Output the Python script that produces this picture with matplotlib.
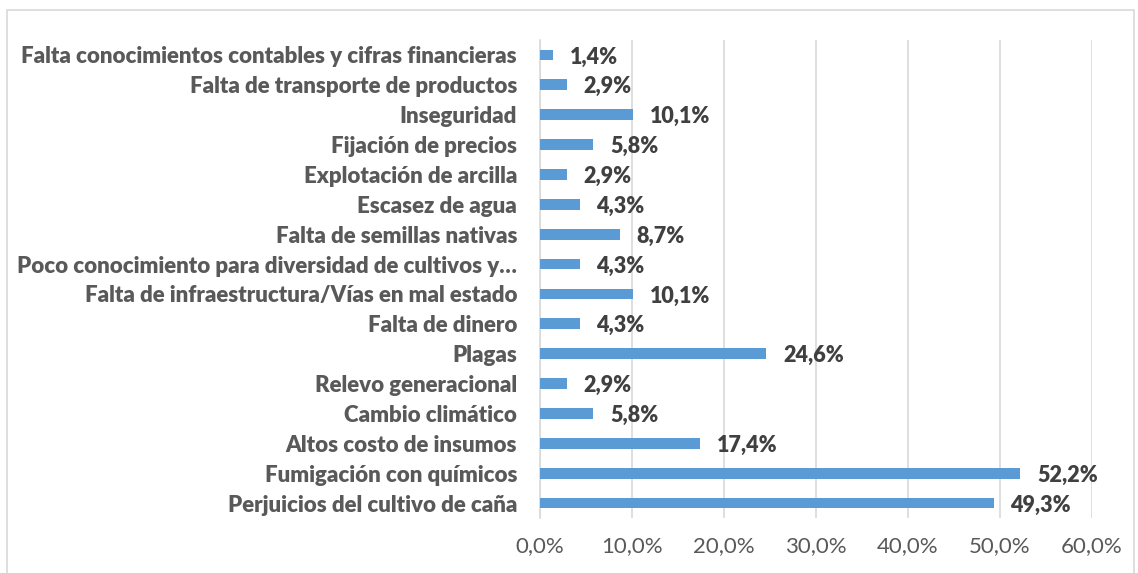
import matplotlib.pyplot as plt
from matplotlib.patches import Rectangle
from matplotlib.ticker import FuncFormatter

plt.rcParams['font.family'] = ['Lato', 'DejaVu Sans']

# categories from top to bottom as in the picture
categorias = [
    "Falta conocimientos contables y cifras financieras",
    "Falta de transporte de productos",
    "Inseguridad",
    "Fijación de precios",
    "Explotación de arcilla",
    "Escasez de agua",
    "Falta de semillas nativas",
    "Poco conocimiento para diversidad de cultivos y…",
    "Falta de infraestructura/Vías en mal estado",
    "Falta de dinero",
    "Plagas",
    "Relevo generacional",
    "Cambio climático",
    "Altos costo de insumos",
    "Fumigación con químicos",
    "Perjuicios del cultivo de caña",
]
porcentajes = [1.4, 2.9, 10.1, 5.8, 2.9, 4.3, 8.7, 4.3, 10.1, 4.3, 24.6, 2.9, 5.8, 17.4, 52.2, 49.3]
ticks_x = [0, 10, 20, 30, 40, 50, 60]

fig = plt.figure(figsize=(11.38, 5.73), dpi=100)
ax = fig.add_axes([540 / 1138, 1 - 518 / 573, (1092 - 540) / 1138, (518 - 40) / 573])

# outer chart frame
fig.patches.append(Rectangle((7 / 1138, -0.05), (1134 - 7) / 1138, 1.05 - 10 / 573,
                             transform=fig.transFigure, fill=False,
                             edgecolor='#d9d9d9', linewidth=1.2))

pos = list(range(len(categorias)))[::-1]
ax.barh(pos, porcentajes, height=0.36, color='#5b9bd5', zorder=3)

for y, v in zip(pos, porcentajes):
    ax.annotate(f"{v:.1f}%".replace('.', ','), (v, y), xytext=(12, -1.5),
                textcoords='offset points', va='center', ha='left',
                fontsize=15.5, fontweight='heavy', color='#404040')

ax.set_yticks(pos)
ax.set_yticklabels(categorias, fontsize=16, fontweight='heavy', color='#595959')
ax.set_ylim(-0.5, len(categorias) - 0.5)
ax.set_xlim(0, 60)
ax.set_xticks(ticks_x)
ax.xaxis.set_major_formatter(FuncFormatter(lambda x, p: f"{x:.1f}%".replace('.', ',')))
ax.tick_params(axis='x', labelsize=16, colors='#595959', length=0, pad=13)
ax.tick_params(axis='y', length=0, pad=16.5)

ax.grid(axis='x', color='#d9d9d9', linewidth=1.2, zorder=0)
for s in ['top', 'right', 'bottom']:
    ax.spines[s].set_visible(False)
ax.spines['left'].set_color('#d9d9d9')
ax.spines['left'].set_linewidth(1.2)

fig.savefig('out.png', dpi=100)
